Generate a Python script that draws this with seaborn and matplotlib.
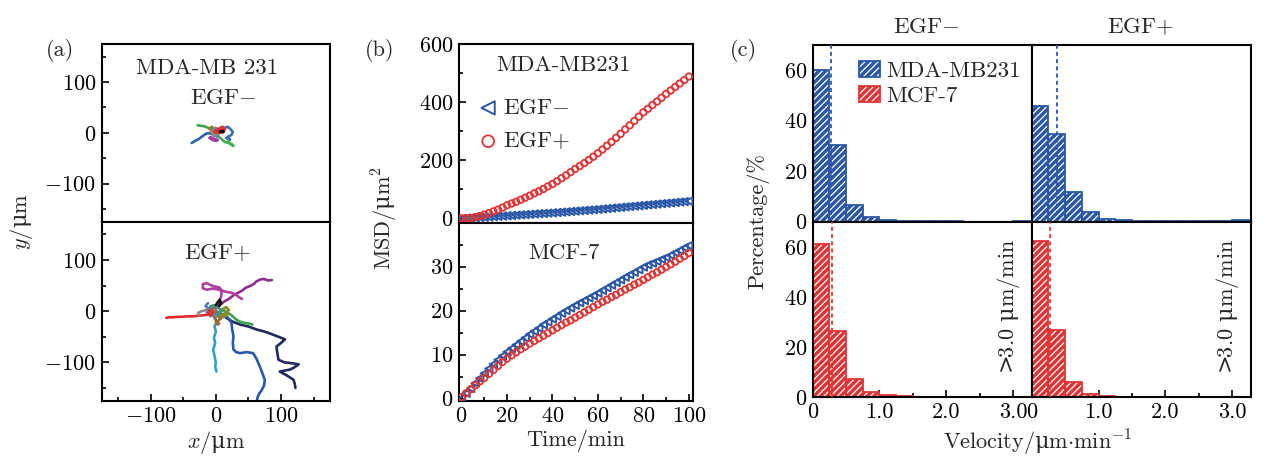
import numpy as np
import matplotlib
matplotlib.use("Agg")
import matplotlib.pyplot as plt
import seaborn as sns
from matplotlib.patches import Patch
from matplotlib.legend_handler import HandlerTuple
from matplotlib.ticker import MultipleLocator

# ---------------- data ----------------
# (a) trajectories, EGF- (top) ; x, y in um
a_top_tracks = {
    "#2f5fa8": ([0, -5, -10, -14, -20, -26, -32, -37], [0, -2, -1, -1, -6, -12, -16, -20]),
    "#3aa64a": ([0, -6, -12, -18, -24, -28], [0, 6, 10, 13, 14, 15]),
    "#41b04c": ([5, 10, 14, 20, 27, 24, 18], [-8, -14, -18, -20, -26, -22, -18]),
    "#3c6fb6": ([8, 14, 18, 22, 26, 24, 18, 22, 16], [5, 10, 12, 8, 2, -4, -8, -14, -10]),
    "#a0409a": ([-10, -5, 0, 3, -3, -8], [-10, -14, -16, -14, -12, -8]),
    "#9a7a2a": ([-10, -6, -2, -8, -4, 2], [8, 12, 6, 2, -4, 4]),
    "#6a7fb0": ([-4, 2, 6, 0, -6, -2], [-4, -8, 2, 10, 4, -6]),
    "#8c8c8c": ([-6, -2, 4, 0, -4], [2, 6, 0, -6, -2]),
    "#e03030": ([-2, 4, 10, 14, 12, 6, 0, -2, 6, 10], [2, 8, 12, 8, 2, 0, 1, 4, 6, 4]),
    "#111111": ([6, 9, 12, 10], [2, 4, 3, 1]),
}
# (a) trajectories, EGF+ (bottom)
a_bot_tracks = {
    "#1e2a60": ([0, 8, 16, 25, 37, 50, 63, 75, 88, 98, 106, 100, 93, 94, 96, 105, 118, 127, 120, 114, 106, 98, 108, 119, 121, 122],
                [0, -5, -13, -20, -26, -30, -36, -40, -46, -51, -55, -62, -69, -80, -95, -100, -102, -104, -110, -114, -116, -118, -125, -134, -142, -150]),
    "#2a58ac": ([0, 6, 12, 18, 24, 25, 27, 26, 27, 31, 37, 47, 57, 60, 63, 68, 73, 75, 74, 70, 67, 64, 63],
                [0, -4, -8, -12, -23, -35, -49, -62, -75, -80, -82, -80, -82, -88, -95, -110, -127, -134, -145, -155, -160, -168, -175]),
    "#2ba3c8": ([0, 2, -1, 1, -2, 0, -3, -1, -4, -2, 0, -1, 1], [0, -5, -12, -20, -30, -40, -52, -62, -75, -88, -100, -110, -118]),
    "#e02a2a": ([-5, -12, -20, -28, -36, -44, -52, -60, -66, -72, -76], [-6, -7, -8, -9, -10, -10, -11, -11, -12, -12, -13]),
    "#8e2c8e": ([2, 8, 14, 20, 28, 34, 40, 46, 52, 58, 62, 68, 74, 80, 86], [8, 14, 20, 24, 32, 36, 40, 46, 49, 53, 58, 62, 63, 60, 61]),
    "#b0409e": ([0, 4, 8, 9, 6, 0, -6, -14, -20, -20, -14, -6, 2, 9, 16, 24, 30, 36, 40],
                [5, 15, 28, 40, 46, 48, 50, 55, 53, 45, 42, 44, 43, 40, 38, 36, 33, 27, 24]),
    "#3aa64a": ([5, 12, 18, 24, 30, 36, 44, 50, 56], [-2, 2, -3, -8, -15, -20, -23, -24, -26]),
    "#8c8c8c": ([-3, -10, -16, -22, -27, -26], [2, 4, 2, 0, -3, -8]),
    "#9b6a2b": ([0, 5, 3, 8, 4, 1, 5, 3, -4, -8, 2], [0, -5, -10, -14, -18, -22, -24, -26, -8, 4, 10]),
    "#3c9a8a": ([-10, -4, 2, 8, 4, -6, -12, -8], [6, 12, 8, 2, -6, -4, 2, 10]),
    "#8a8a2a": ([10, 16, 20, 14, 8, 12, 18], [4, 8, 2, -4, -8, -12, -6]),
    "#5a7ac0": ([-14, -8, -2, -10, -16, -12], [-2, -10, -4, 4, 10, 16]),
    "#e03030": ([-12, -8, -4, -10, -6], [-4, -8, -2, 2, -6]),
    "#111111": ([0, 3, 6, 8, 5], [12, 18, 22, 16, 10]),
}

# (b) MSD vs time
time_min = list(range(0, 101, 2))
msd_mda_egf_minus = [0, 0.8, 1.6, 2.4, 3.2, 4, 5, 6, 7, 8, 9, 10, 11, 12, 13, 14, 15, 16, 17, 18, 19,
                     20.2, 21.4, 22.6, 23.8, 25, 26.2, 27.4, 28.6, 29.8, 31, 32.4, 33.8, 35.2, 36.6, 38,
                     39.4, 40.8, 42.2, 43.6, 45, 46.4, 47.8, 49.2, 50.6, 52, 53.4, 54.8, 56.2, 57.6, 59]
msd_mda_egf_plus = [0, 0.5, 1.5, 4, 8, 13, 18, 24, 30, 37, 45, 51, 57, 64, 71, 78, 86, 93, 101, 110, 118,
                    128, 138, 148, 159, 170, 180, 190, 201, 212, 224, 237, 250, 263, 277, 291, 306, 320,
                    335, 350, 365, 377, 390, 402, 415, 428, 440, 452, 464, 476, 488]
msd_mcf_egf_minus = [0.0, 1.2, 2.3, 3.5, 4.6, 5.7, 6.8, 7.8, 8.8, 9.7, 10.6, 11.4, 12.2, 13.0, 13.8, 14.6,
                     15.3, 16.0, 16.8, 17.4, 18.1, 18.7, 19.4, 20.0, 20.6, 21.2, 21.8, 22.3, 22.9, 23.4,
                     24.0, 24.6, 25.2, 25.8, 26.4, 27.0, 27.6, 28.2, 28.7, 29.3, 29.9, 30.4, 30.8, 31.2,
                     31.7, 32.1, 32.6, 33.2, 33.7, 34.3, 34.8]
msd_mcf_egf_plus = [0.3, 1.2, 2.1, 3.0, 3.9, 4.7, 5.6, 6.5, 7.4, 8.3, 9.1, 9.8, 10.5, 11.2, 11.8, 12.5,
                    13.1, 13.7, 14.3, 14.9, 15.5, 16.1, 16.7, 17.3, 17.8, 18.4, 19.0, 19.6, 20.2, 20.8,
                    21.4, 22.0, 22.5, 23.1, 23.6, 24.2, 24.8, 25.3, 25.9, 26.4, 27.0, 27.6, 28.2, 28.7,
                    29.3, 29.9, 30.5, 31.1, 31.8, 32.4, 33.1]

# (c) velocity histograms (percentage), last bin = >3.0 um/min
velocity_bins = [0, 0.25, 0.5, 0.75, 1.0, 1.25, 1.5, 1.75, 2.0, 2.25, 2.5, 2.75, 3.0, 3.25]
hist_mda_egf_minus = [60.0, 30.2, 6.8, 1.7, 0.7, 0.4, 0.3, 0.1, 0.1, 0.05, 0.05, 0.05, 0.4]
hist_mda_egf_plus = [46.0, 34.8, 11.9, 3.7, 1.2, 0.7, 0.4, 0.3, 0.3, 0.2, 0.2, 0.2, 0.8]
hist_mcf_egf_minus = [61.0, 26.3, 7.2, 2.1, 0.8, 0.4, 0.3, 0.1, 0.1, 0.05, 0.05, 0.05, 0.3]
hist_mcf_egf_plus = [62.4, 27.0, 6.1, 1.5, 0.5, 0.3, 0.2, 0.1, 0.1, 0.05, 0.05, 0.05, 0.3]
mean_velocity = {"mda_minus": 0.27, "mda_plus": 0.38, "mcf_minus": 0.29, "mcf_plus": 0.27}

# ---------------- style ----------------
sns.set_theme(style="ticks")
plt.rcParams['font.family'] = ['cmr10', 'DejaVu Serif']
plt.rcParams['mathtext.fontset'] = 'custom'
plt.rcParams['mathtext.rm'] = 'cmr10'
plt.rcParams['mathtext.it'] = 'cmmi10'
plt.rcParams['mathtext.bf'] = 'cmb10'
plt.rcParams['mathtext.sf'] = 'DejaVu Serif'
plt.rcParams['mathtext.fallback'] = 'cm'
plt.rcParams['axes.formatter.use_mathtext'] = True
plt.rcParams['hatch.linewidth'] = 0.9
FS = 16
FT = 16.5
MU = r"$\mathsf{\mu}$"

BLUE = "#2b58a6"
RED = "#e03434"

W, H = 1279, 457
fig = plt.figure(figsize=(W / 100, H / 100), dpi=100)


def box(l, t, r, b):
    return [l / W, 1 - b / H, (r - l) / W, (b - t) / H]


def style_ax(ax, xticks=True, yticks=True):
    for s in ax.spines.values():
        s.set_linewidth(1.5)
        s.set_color("black")
        s.set_visible(True)
    ax.tick_params(which="both", direction="in", top=False, right=False,
                   labelsize=FS, width=1.2, colors="black", pad=4)
    ax.tick_params(which="major", length=5)
    ax.tick_params(which="minor", length=3)
    if not xticks:
        ax.tick_params(axis="x", which="both", bottom=False, labelbottom=False)
    if not yticks:
        ax.tick_params(axis="y", which="both", left=False, labelleft=False)
    ax.set_xlabel("")
    ax.set_ylabel("")


# ---------------- (a) ----------------
ax_a1 = fig.add_axes(box(101.7, 44, 330, 221.7))
ax_a2 = fig.add_axes(box(101.7, 221.7, 330, 400.7))
for ax, tracks in ((ax_a1, a_top_tracks), (ax_a2, a_bot_tracks)):
    for col, (xs, ys) in tracks.items():
        sns.lineplot(x=xs, y=ys, sort=False, estimator=None, color=col, lw=1.9, ax=ax)
    ax.set_xlim(-175, 175)
    ax.set_ylim(-175, 175)
    ax.xaxis.set_major_locator(MultipleLocator(100))
    ax.xaxis.set_minor_locator(MultipleLocator(50))
    ax.yaxis.set_major_locator(MultipleLocator(100))
    ax.yaxis.set_minor_locator(MultipleLocator(50))
style_ax(ax_a1, xticks=False)
style_ax(ax_a2)
fig.text(206.7 / W, 1 - 68 / H, "MDA-MB 231", ha="center", va="center", fontsize=FT)
fig.text(223 / W, 1 - 98 / H, "EGF$-$", ha="center", va="center", fontsize=FT)
fig.text(218 / W, 1 - 253 / H, "EGF$+$", ha="center", va="center", fontsize=FT)
fig.text(60 / W, 1 - 50 / H, "(a)", ha="center", va="center", fontsize=FS)
fig.text(22 / W, 1 - 222 / H, "$y$/" + MU + "m", ha="center", va="center", rotation=90, fontsize=FS)
fig.text(216 / W, 1 - 442 / H, "$x$/" + MU + "m", ha="center", va="center", fontsize=FS)

# ---------------- (b) ----------------
ax_b1 = fig.add_axes(box(459.3, 44, 693.3, 222.7))
ax_b2 = fig.add_axes(box(459.3, 222.7, 693.3, 400.7))
sns.scatterplot(x=time_min, y=msd_mda_egf_minus, marker="<", s=28, facecolor="none",
                edgecolor=BLUE, color=BLUE, linewidth=1.4, ax=ax_b1, label="EGF$-$", zorder=3)
sns.scatterplot(x=time_min, y=msd_mda_egf_plus, marker="o", s=22, facecolor="none",
                edgecolor=RED, color=RED, linewidth=1.3, ax=ax_b1, label="EGF$+$", zorder=4)
sns.scatterplot(x=time_min, y=msd_mcf_egf_minus, marker="<", s=28, facecolor="none",
                edgecolor=BLUE, color=BLUE, linewidth=1.4, ax=ax_b2, zorder=3)
sns.scatterplot(x=time_min, y=msd_mcf_egf_plus, marker="o", s=22, facecolor="none",
                edgecolor=RED, color=RED, linewidth=1.3, ax=ax_b2, zorder=4)
ax_b1.set_xlim(-1, 102)
ax_b2.set_xlim(-1, 102)
ax_b1.set_ylim(-15, 600)
ax_b2.set_ylim(-0.5, 40)
ax_b1.set_yticks([0, 200, 400, 600])
ax_b1.yaxis.set_minor_locator(MultipleLocator(100))
ax_b2.set_yticks([0, 10, 20, 30])
ax_b2.yaxis.set_minor_locator(MultipleLocator(5))
ax_b2.xaxis.set_major_locator(MultipleLocator(20))
ax_b2.xaxis.set_minor_locator(MultipleLocator(10))
style_ax(ax_b1, xticks=False)
style_ax(ax_b2)
leg = ax_b1.legend(loc="upper left", bbox_to_anchor=(0.04, 0.75), frameon=False, fontsize=FT,
                   handletextpad=0.2, borderaxespad=0.0, labelspacing=0.55, handlelength=0.9,
                   markerscale=1.8)
fig.text(563 / W, 1 - 65 / H, "MDA-MB231", ha="center", va="center", fontsize=FT)
fig.text(564 / W, 1 - 253 / H, "MCF-7", ha="center", va="center", fontsize=FT)
fig.text(380 / W, 1 - 51 / H, "(b)", ha="center", va="center", fontsize=FS)
fig.text(385 / W, 1 - 218 / H, "MSD/" + MU + "m$^2$", ha="center", va="center", rotation=90, fontsize=FS)
fig.text(576 / W, 1 - 441 / H, "Time/min", ha="center", va="center", fontsize=FS)

# ---------------- (c) ----------------
edges = list(velocity_bins)
centers = [(a + b) / 2 for a, b in zip(edges[:-1], edges[1:])]
c_axes = [
    (fig.add_axes(box(812.7, 45, 1031.7, 221.7)), hist_mda_egf_minus, BLUE, "mda_minus", True, False),
    (fig.add_axes(box(1031.7, 45, 1251, 221.7)), hist_mda_egf_plus, BLUE, "mda_plus", False, False),
    (fig.add_axes(box(812.7, 221.7, 1031.7, 397.3)), hist_mcf_egf_minus, RED, "mcf_minus", True, True),
    (fig.add_axes(box(1031.7, 221.7, 1251, 397.3)), hist_mcf_egf_plus, RED, "mcf_plus", False, True),
]
for ax, vals, col, key, left, bottom in c_axes:
    sns.histplot(x=centers, weights=list(vals), bins=edges, stat="count", element="bars",
                 fill=True, color=col, alpha=1, ax=ax, linewidth=0)
    for p in ax.patches:
        p.set_facecolor(col)
        p.set_edgecolor("white")
        p.set_hatch("/////")
        p.set_linewidth(0)
    sns.histplot(x=centers, weights=list(vals), bins=edges, stat="count", element="bars",
                 fill=False, color=col, ax=ax, linewidth=1.3)
    ax.axvline(mean_velocity[key], color=col, ls=(0, (2.2, 1.8)), lw=1.3, zorder=5)
    ax.set_xlim(0, 3.28)
    ax.set_ylim(0, 70)
    ax.yaxis.set_major_locator(MultipleLocator(20))
    ax.yaxis.set_minor_locator(MultipleLocator(10))
    ax.set_xticks([0, 1, 2, 3], ["0", "1.0", "2.0", "3.0"])
    ax.xaxis.set_minor_locator(MultipleLocator(0.5))
    style_ax(ax, xticks=bottom, yticks=left)
    if bottom:
        ax.text(2.93, 0.51, r"$\mathsf{>}\!\!$3.0 " + MU + "m/min", transform=ax.get_xaxis_transform(),
                rotation=90, ha="center", va="center", fontsize=FS)

ax_c1 = c_axes[0][0]
hb = (Patch(facecolor=BLUE, edgecolor="white", hatch="/////", linewidth=0),
      Patch(facecolor="none", edgecolor=BLUE, linewidth=1.3))
hr = (Patch(facecolor=RED, edgecolor="white", hatch="/////", linewidth=0),
      Patch(facecolor="none", edgecolor=RED, linewidth=1.3))
ax_c1.legend([hb, hr], ["MDA-MB231", "MCF-7"], handler_map={tuple: HandlerTuple(ndivide=1, pad=0)},
             loc="upper left", bbox_to_anchor=(0.17, 0.96), frameon=False, fontsize=FT,
             handlelength=0.9, handleheight=0.7, handletextpad=0.3, borderaxespad=0, labelspacing=0.2)

fig.text(926.7 / W, 1 - 27 / H, "EGF$-$", ha="center", va="center", fontsize=FT)
fig.text(1140.7 / W, 1 - 27 / H, "EGF$+$", ha="center", va="center", fontsize=FT)
fig.text(743 / W, 1 - 50 / H, "(c)", ha="center", va="center", fontsize=FS)
fig.text(758 / W, 1 - 221 / H, "Percentage/%", ha="center", va="center", rotation=90, fontsize=FS)
fig.text(1038 / W, 1 - 443 / H, "Velocity/" + MU + r"m$\cdot$min$^{-1}$", ha="center", va="center",
         fontsize=FS)

fig.savefig("out.png", dpi=100)
